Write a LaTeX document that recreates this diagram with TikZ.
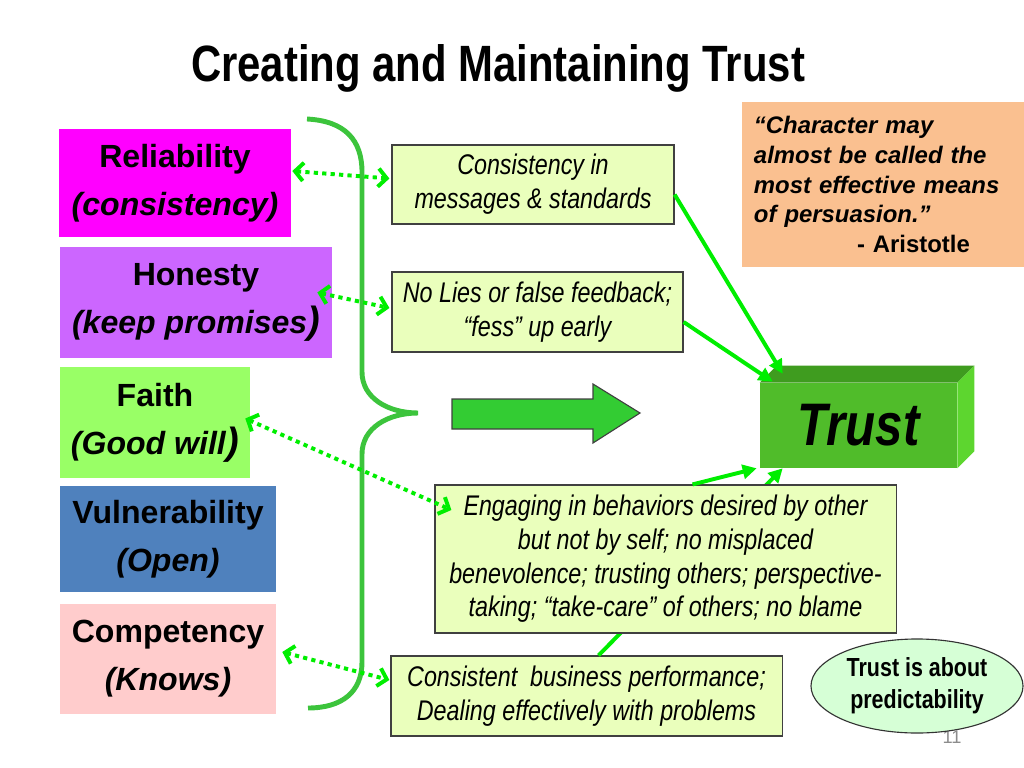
\documentclass[tikz,border=0pt]{standalone}
\usepackage{fontspec}
\setmainfont{Liberation Sans}
\newfontfamily\nar[FakeStretch=0.82]{Liberation Sans}
\usetikzlibrary{arrows.meta,shapes.geometric,calc}
\definecolor{cRel}{HTML}{FF00FF}
\definecolor{cHon}{HTML}{CC66FF}
\definecolor{cFai}{HTML}{99FF66}
\definecolor{cVul}{HTML}{4F81BD}
\definecolor{cCom}{HTML}{FFCCCC}
\definecolor{cBox}{HTML}{EAFFBC}
\definecolor{cQuote}{HTML}{FAC090}
\definecolor{cArr}{HTML}{00EE00}
\definecolor{cBrace}{HTML}{3CC43C}
\definecolor{cBig}{HTML}{33CC33}
\definecolor{cTrF}{HTML}{50BC2A}
\definecolor{cTrT}{HTML}{3F9C1F}
\definecolor{cTrS}{HTML}{5DD62F}
\definecolor{cEll}{HTML}{D6FFD6}
\begin{document}
\begin{tikzpicture}[x=0.025cm,y=-0.025cm,
  lbox/.style={inner sep=0pt, align=center, font=\bfseries\fontsize{22.8pt}{34pt}\selectfont},
  gbox/.style={draw=black!75, fill=cBox, line width=0.8pt, inner sep=0pt, align=center,
    font=\nar\itshape\fontsize{20.2pt}{24pt}\selectfont},
  sarr/.style={draw=cArr, line width=2.8pt, -{Triangle[length=10pt,width=10pt]}},
  darr/.style={draw=cArr, line width=2.8pt, dash pattern=on 3pt off 3pt,
    {Straight Barb[length=6pt,width=13pt]}-{Straight Barb[length=6pt,width=13pt]}},
  brace/.style={draw=cBrace, line width=3.5pt}]
\useasboundingbox (0,0) rectangle (1024,768);

% title
\node[font=\nar\bfseries\fontsize{36.3pt}{40pt}\selectfont, anchor=base, inner sep=0pt] (title) at (498,82) {Creating and Maintaining Trust};

% left boxes
\node[lbox, fill=cRel, minimum width=5.8cm, minimum height=2.7cm] (rel) at (175,183) {Reliability\\\textit{(consistency)}};
\node[lbox, fill=cHon, minimum width=6.8cm, minimum height=2.775cm] (hon) at (196,302.5) {Honesty\\\textit{(keep promises}{\fontsize{27pt}{27pt}\selectfont\textit{)}}};
\node[lbox, fill=cFai, minimum width=4.75cm, minimum height=2.775cm] (fai) at (155,422.5) {Faith\\\textit{(Good will}{\fontsize{27pt}{27pt}\selectfont\textit{)}}};
\node[lbox, fill=cVul, minimum width=5.4cm, minimum height=2.65cm] (vul) at (168,539) {Vulnerability\\\textit{(Open)}};
\node[lbox, fill=cCom, minimum width=5.4cm, minimum height=2.725cm] (com) at (168,659) {Competency\\\textit{(Knows)}};

% brace
\draw[brace] (307,119) .. controls (345,121) and (362,140) .. (362,172) -- (362,372)
  .. controls (362,398) and (388,413) .. (418,413)
  .. controls (388,413) and (362,428) .. (362,454) -- (362,662)
  .. controls (362,692) and (342,708) .. (308,708);

% big arrow
\draw[fill=cBig, draw=black!75, line width=0.8pt] (452,399) -- (593,399) -- (593,384) -- (640,413) -- (593,443) -- (593,429) -- (452,429) -- cycle;

% quote
\node[fill=cQuote, minimum width=7.05cm, minimum height=4.125cm, inner xsep=0.3cm, inner ysep=0pt,
  text width=6.45cm, align=left, font=\bfseries\itshape\fontsize{17pt}{21.3pt}\selectfont] (quote) at (883,184.5)
  {“Character may\\almost be called the\\most effective means\\of persuasion.”\\\hspace*{2.575cm}\textup{- Aristotle}};

% trust block
\node[fill=cTrF, minimum width=4.925cm, minimum height=2.125cm, inner sep=0pt,
  font=\nar\bfseries\itshape\fontsize{42.7pt}{44pt}\selectfont] (trust) at (858.5,425.5) {Trust};
\fill[cTrT] (trust.north west) -- ++(17,-17) -- ($(trust.north east)+(17,-17)$) -- (trust.north east) -- cycle;
\fill[cTrS] (trust.north east) -- ++(17,-17) -- ($(trust.south east)+(17,-17)$) -- (trust.south east) -- cycle;
\coordinate (t1) at ($(trust.north west)+(23,-9)$);
\coordinate (t2) at ($(trust.north west)+(13,-1)$);
\coordinate (t3) at ($(trust.south west)+(-3,0)$);
\coordinate (t4) at ($(trust.south west)+(23,0)$);

% lower box and its arrow (behind b3)
\node[gbox, minimum width=9.775cm, minimum height=2cm] (b4) at (586.5,696) {Consistent\ \ business performance;\\Dealing effectively with problems};
\draw[sarr] ($(b4.north)+(12,0)$) -- (t4);

\node[gbox, minimum width=11.525cm, minimum height=3.7cm] (b3) at (665.5,559) {Engaging in behaviors desired by other\\but not by self; no misplaced\\benevolence; trusting others; perspective-\\taking; “take-care” of others; no blame};
\node[gbox, minimum width=7.05cm, minimum height=1.975cm] (b1) at (533,184.5) {Consistency in\\messages \& standards};
\node[gbox, minimum width=7.275cm, minimum height=2cm] (b2) at (537.5,312) {No Lies or false feedback;\\“fess” up early};

% solid arrows
\draw[sarr] ($(b1.east)+(0,10)$) -- (t1);
\draw[sarr] ($(b2.east)+(0,10)$) -- (t2);
\draw[sarr] ($(b3.north)+(27,0)$) -- (t3);

% dotted double arrows
\draw[darr] ($(rel.east)+(1,-12)$) -- ($(b1.west)+(-2,-6)$);
\draw[darr] ($(hon.east)+(-15,-10)$) -- ($(b2.west)+(-2,-4)$);
\draw[darr] ($(fai.east)+(-5,-4)$) -- ($(b3.west)+(17,-49)$);
\draw[darr] ($(com.east)+(6,-7)$) -- ($(b4.west)+(-1,-16)$);

% page number and ellipse
\node[text=black!45, font=\fontsize{13pt}{14pt}\selectfont, inner sep=0pt] (pg) at (952,737) {11};
\node[ellipse, draw=black!80, fill=cEll, line width=0.8pt, minimum width=5.3cm, minimum height=2.35cm, inner sep=0pt,
  align=center, font=\nar\bfseries\fontsize{18.6pt}{22.5pt}\selectfont] (ell) at (917,686) {Trust is about\\predictability};
\end{tikzpicture}
\end{document}
